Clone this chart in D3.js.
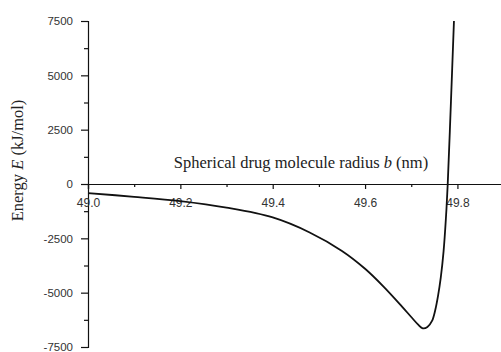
<!DOCTYPE html>
<html>
<head>
<meta charset="utf-8">
<script src="https://cdn.jsdelivr.net/npm/d3@7"></script>
<style>
  body { margin: 0; background: #fff; }
  svg { display: block; }
  .tick text { font-family: "Liberation Sans", Arial, sans-serif; }
</style>
</head>
<body>
<script>
// radius b (nm) and energy E (kJ/mol)
var radius = [49.00, 49.10, 49.20, 49.30, 49.40, 49.48, 49.55, 49.60, 49.64, 49.68,
              49.70, 49.715, 49.725, 49.735, 49.745, 49.752, 49.758, 49.764,
              49.770, 49.775, 49.779, 49.786, 49.7925];
var energy = [-420, -590, -790, -1090, -1540, -2230, -3080, -3900, -4720, -5640,
              -6120, -6470, -6640, -6580, -6300, -5800, -5150, -4300,
              -3100, -1600, 0, 3800, 7500];

var xMajor = [49.0, 49.2, 49.4, 49.6, 49.8];
var xMinor = [49.1, 49.3, 49.5, 49.7, 49.9];
var yMajor = [-7500, -5000, -2500, 0, 2500, 5000, 7500];
var yMinor = [-6250, -3750, -1250, 1250, 3750, 6250];

var width = 501, height = 352;

var svg = d3.select("body").append("svg")
    .attr("width", width)
    .attr("height", height);

var x = d3.scaleLinear().domain([49.0, 49.9]).range([88, 503.6]);
var y = d3.scaleLinear().domain([-7500, 7500]).range([347, 21]);

// y axis (left, at b = 49.0)
var yAxis = svg.append("g")
    .attr("transform", "translate(" + x(49.0) + ",0)")
    .call(d3.axisLeft(y).tickValues(yMajor).tickSize(7).tickPadding(8)
      .tickFormat(function(d) { return String(d); }));
yAxis.selectAll("text").attr("font-size", "11.5px").attr("fill", "#333");

var yAxisMinor = svg.append("g")
    .attr("transform", "translate(" + x(49.0) + ",0)")
    .call(d3.axisLeft(y).tickValues(yMinor).tickSize(4).tickFormat(""));
yAxisMinor.select(".domain").remove();

// x axis crosses at E = 0
var xAxis = svg.append("g")
    .attr("transform", "translate(0," + y(0) + ")")
    .call(d3.axisBottom(x).tickValues(xMajor).tickSize(5).tickPadding(9.5)
      .tickFormat(d3.format(".1f")));
xAxis.selectAll("text").attr("font-size", "12px").attr("fill", "#333");

var xAxisMinor = svg.append("g")
    .attr("transform", "translate(0," + y(0) + ")")
    .call(d3.axisBottom(x).tickValues(xMinor).tickSize(3).tickFormat(""));
xAxisMinor.select(".domain").remove();

svg.selectAll(".domain, .tick line")
    .attr("stroke", "#111")
    .attr("stroke-width", 1.2);

// curve
var pts = radius.map(function(b, i) { return [b, energy[i]]; });
var line = d3.line()
    .x(function(d) { return x(d[0]); })
    .y(function(d) { return y(d[1]); })
    .curve(d3.curveCatmullRom.alpha(0.5));

svg.append("path")
    .datum(pts)
    .attr("fill", "none")
    .attr("stroke", "#111")
    .attr("stroke-width", 1.8)
    .attr("d", line);

// axis titles
var xt = svg.append("text")
    .attr("x", 301)
    .attr("y", 168)
    .attr("text-anchor", "middle")
    .attr("font-family", "'Liberation Serif', 'Times New Roman', serif")
    .attr("font-size", "16.5px")
    .attr("fill", "#222");
xt.append("tspan").text("Spherical drug molecule radius ");
xt.append("tspan").attr("font-style", "italic").text("b");
xt.append("tspan").text(" (nm)");

var yt = svg.append("text")
    .attr("transform", "translate(23,160.5) rotate(-90)")
    .attr("text-anchor", "middle")
    .attr("font-family", "'Liberation Serif', 'Times New Roman', serif")
    .attr("font-size", "16.5px")
    .attr("fill", "#222");
yt.append("tspan").text("Energy ");
yt.append("tspan").attr("font-style", "italic").text("E");
yt.append("tspan").text(" (kJ/mol)");
</script>
</body>
</html>
